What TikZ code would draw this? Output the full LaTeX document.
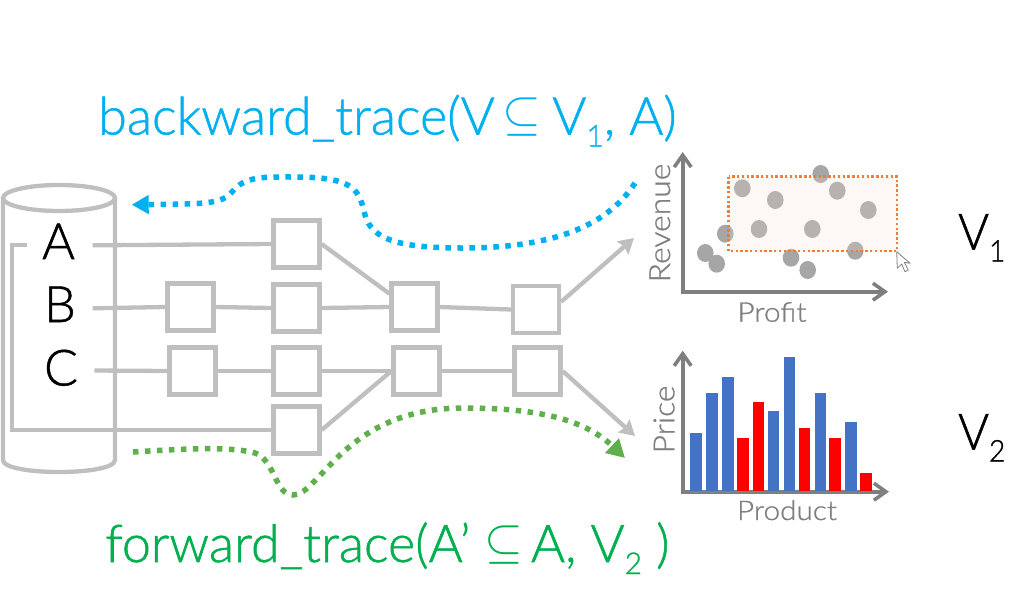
\documentclass[tikz,border=0pt]{standalone}
\usepackage{fontspec}
\usetikzlibrary{arrows.meta,calc}
\setmainfont{Lato}[UprightFont=* Light,BoldFont=* Light,FakeBold=1]
\newfontfamily\mainfont[UprightFont=* Light,FakeStretch=.94,FakeBold=1]{Lato}
\newfontfamily\tracefont[UprightFont=* Light,FakeBold=1]{Lato}
\newfontfamily\axisfont[UprightFont=* Light,FakeStretch=1.1,FakeBold=1]{Lato}
\definecolor{flow}{HTML}{BFBFBF}
\definecolor{axisgray}{HTML}{7F7F7F}
\definecolor{backblue}{HTML}{00B0F0}
\definecolor{forwgreen}{HTML}{00B050}
\definecolor{dotgreen}{HTML}{5FAF4D}
\definecolor{barblue}{HTML}{4472C4}
\definecolor{barred}{HTML}{FF0000}
\definecolor{selorange}{HTML}{ED7D31}
\definecolor{selfill}{RGB}{245,223,209}
\definecolor{ptgray}{HTML}{A6A6A6}
\newcommand{\subs}[1]{\raisebox{-12pt}{\fontsize{30}{30}\selectfont #1}}
\newcommand{\sbs}{\raisebox{5pt}{\scalebox{2}{$\subseteq$}}}
\begin{document}
\begin{tikzpicture}[x=1pt,y=-1pt,
  flowline/.style={draw=flow,line width=4.3pt},
  flowbox/.style={draw=flow,line width=4.3pt,minimum width=46pt,minimum height=47pt,inner sep=0pt},
  flowarrow/.style={flowline,-{Stealth[length=15pt,width=17pt,inset=2pt]}},
  letter/.style={font=\fontsize{50}{50}\selectfont,inner sep=0pt,anchor=base},
  axisline/.style={draw=axisgray,line width=3.6pt,{Straight Barb[length=12pt,width=17pt,line width=3.6pt]}-{Straight Barb[length=12pt,width=17pt,line width=3.6pt]}},
  axislabel/.style={text=axisgray,inner sep=0pt,anchor=base},
  pt/.style={fill=ptgray,draw=none},
  bluebar/.style={fill=barblue,draw=none},
  redbar/.style={fill=barred,draw=none},
  tracedot/.style={line width=5.5pt,dash pattern=on 5.5pt off 6.5pt},
  tracetext/.style={font=\tracefont\fontsize{52}{52}\selectfont,inner sep=0pt,anchor=base west},
  viewlabel/.style={font=\mainfont\fontsize{50}{50}\selectfont,inner sep=0pt,anchor=base west,text=black}
]
\useasboundingbox (0,0) rectangle (1029,606);

% cylinder
\draw[flowline] (59,198) ellipse [x radius=56pt,y radius=13pt];
\draw[flowline] (3,198) -- (3,460) .. controls (3,476) and (115,476) .. (115,460) -- (115,198);

% letters
\node[letter] (A) at (58.5,259) {A};
\node[letter] (B) at (60,322) {B};
\node[letter] (C) at (61,385.5) {C};

% boxes
\node[flowbox] (b11) at (296.5,244) {};
\node[flowbox] (b21) at (190.5,307) {};
\node[flowbox] (b22) at (296.5,308) {};
\node[flowbox] (b31) at (192.5,371) {};
\node[flowbox] (b32) at (296.5,371) {};
\node[flowbox] (b42) at (296.5,430) {};
\node[flowbox] (c2) at (414.5,307) {};
\node[flowbox] (d2) at (536,309.5) {};
\node[flowbox] (c3) at (416.5,371) {};
\node[flowbox] (d3) at (537.5,371) {};

% free ends
\coordinate (afrom) at (92.7,245.3);
\coordinate (bfrom) at (92.7,308.3);
\coordinate (cfrom) at (94.3,370.5);
\coordinate (lstart) at (27.3,245.3);
\coordinate (ltop) at (12,245.3);
\coordinate (lbot) at (12,430);
\coordinate (v1in) at (634,238);
\coordinate (v2in) at (635,436);

% connectors
\draw[flowline] (afrom) -- (b11.west);
\draw[flowline] (bfrom) -- (b21.west);
\draw[flowline] (b21.east) -- (b22.west);
\draw[flowline] (cfrom) -- (b31.west);
\draw[flowline] (b31.east) -- (b32.west);
\draw[flowline] (lstart) -- (ltop) -- (lbot) -- (b42.west);
\draw[flowline] (b11.east) -- (c2.152);
\draw[flowline] (b22.east) -- (c2.west);
\draw[flowline] (b32.east) -- (c3.west);
\draw[flowline] (b42.east) -- (c3.west);
\draw[flowline] (c2.east) -- (d2.west);
\draw[flowline] (c3.east) -- (d3.west);
\draw[flowarrow] (d2.17) -- (v1in);
\draw[flowarrow] (d3.east) -- (v2in);

% scatter
\foreach \px/\py in {820.7/174,742.3/188.3,837.3/190.7,775.3/200,868.3/210,725.3/233.7,759/229,812.3/229,705.3/253,716.7/263.7,791/257.7,855.3/250.7,807.7/270}
  \path[pt] (\px,\py) ellipse [x radius=8.3pt,y radius=9pt];
\fill[selfill,fill opacity=.22] (728.5,176.5) rectangle (897,251);
\draw[selorange,line width=2.4pt,dash pattern=on 2.4pt off 2.4pt] (728.5,176.5) rectangle (897,251);
\draw[fill=white,draw=gray,line width=.8pt,line join=round] (896.7,251.7) -- (897.3,268.3) -- (901.7,264) -- (905,271.7) -- (908.3,270) -- (904.3,262.3) -- (910,263.3) -- cycle;
\draw[axisline] (682.7,152) -- (682.7,291.7) -- (888,291.7);
\node[axislabel,font=\axisfont\fontsize{27}{27}\selectfont] (profit) at (772,321.7) {Profit};
\node[axislabel,font=\axisfont\fontsize{29}{29}\selectfont,rotate=90] (revenue) at (670,223) {Revenue};

% bars
\draw[axisline] (682.7,350.7) -- (682.7,491.7) -- (889,491.7);
\foreach \xa/\xb/\ytop in {181/215/278,228/265/158,275/312/112,415/448/212,461/495/51,555/588/158,645/681/247}
  \path[bluebar] ({630+\xa/3},{340+\ytop/3}) rectangle ({630+\xb/3},491);
\foreach \xa/\xb/\ytop in {322/358/294,369/402/187,508/541/264,598/634/294,691/727/400}
  \path[redbar] ({630+\xa/3},{340+\ytop/3}) rectangle ({630+\xb/3},491);
\node[axislabel,font=\axisfont\fontsize{29}{29}\selectfont,rotate=90] (price) at (674.3,419.5) {Price};
\node[axislabel,font=\axisfont\fontsize{27}{27}\selectfont] (product) at (787,520) {Product};

% view labels
\node[viewlabel] (v1) at (958,249.5) {V\subs{1}};
\node[viewlabel] (v2) at (958,449.5) {V\subs{2}};

% trace texts
\node[tracetext,text=backblue] (back) at (98,134.5) {backward\_trace(V\hspace{8pt}\sbs{}\hspace{11pt}V\subs{1}, A)};
\node[tracetext,text=forwgreen] (forw) at (105,562) {forward\_trace(A’ \sbs{}\hspace{8pt}A, V\subs{2} )};

% trace curves
\coordinate (bstart) at (635,183);
\coordinate (bend) at (131.7,204.7);
\coordinate (gstart) at (133,452);
\coordinate (gend) at (625,458);
\draw[backblue,tracedot,-{Triangle[length=17pt,width=18pt]}] (bstart) .. controls (610,222) and (560,248) .. (463,248) .. controls (400,248) and (372,240) .. (365,215) .. controls (359,192) and (358,177) .. (295,177) .. controls (262,177) and (245,176) .. (232,192) .. controls (222,204) and (205,204) .. (bend);
\draw[dotgreen,tracedot,-{Triangle[length=18pt,width=19pt]}] (gstart) .. controls (180,449) and (230,446) .. (255,453) .. controls (275,460) and (275,495) .. (293,495) .. controls (320,495) and (345,408) .. (463,408) .. controls (540,408) and (585,420) .. (gend);
\end{tikzpicture}
\end{document}
